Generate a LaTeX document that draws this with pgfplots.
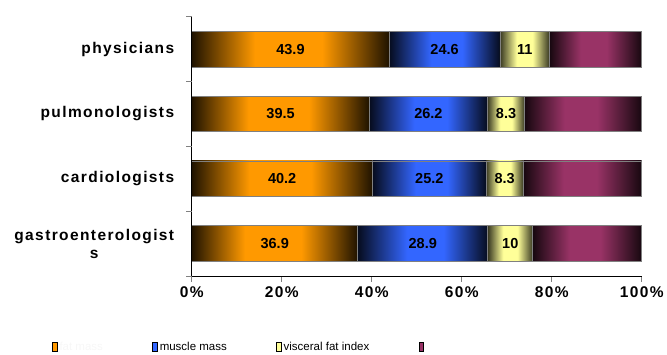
\documentclass[border=0pt]{standalone}
\usepackage{pgfplots}
\pgfplotsset{compat=1.18}
\usepackage{fontspec}
\setmainfont{Liberation Sans}
\newfontfamily\spaced[LetterSpace=9]{Liberation Sans}
\definecolor{cOrange}{HTML}{FF9900}
\definecolor{cBlue}{HTML}{3366FF}
\definecolor{cYellow}{HTML}{FFFF99}
\definecolor{cPurple}{HTML}{993366}
\definecolor{barline}{HTML}{808080}
\colorlet{dOrange}{cOrange!12!black}
\colorlet{dBlue}{cBlue!12!black}
\colorlet{dYellow}{cYellow!22!black}
\colorlet{dPurple}{cPurple!15!black}
\pgfdeclarehorizontalshading{shOrange}{100bp}{color(0bp)=(dOrange); color(25bp)=(dOrange); color(41bp)=(cOrange); color(58bp)=(cOrange); color(75bp)=(dOrange); color(100bp)=(dOrange)}
\pgfdeclarehorizontalshading{shBlue}{100bp}{color(0bp)=(dBlue); color(25bp)=(dBlue); color(44bp)=(cBlue); color(58bp)=(cBlue); color(75bp)=(dBlue); color(100bp)=(dBlue)}
\pgfdeclarehorizontalshading{shYellow}{100bp}{color(0bp)=(dYellow); color(25bp)=(dYellow); color(42bp)=(cYellow); color(58bp)=(cYellow); color(75bp)=(dYellow); color(100bp)=(dYellow)}
\pgfdeclarehorizontalshading{shPurple}{100bp}{color(0bp)=(dPurple); color(25bp)=(dPurple); color(42bp)=(cPurple); color(56bp)=(cPurple); color(75bp)=(dPurple); color(100bp)=(dPurple)}
% one bar segment: x from, x to, y low, y high, shading
\newcommand{\seg}[5]{\addplot[forget plot, shade, shading=#5, draw=barline, line width=0.7pt] coordinates {(#1,#3) (#2,#3) (#2,#4) (#1,#4)} -- cycle;}
\begin{document}
\begin{tikzpicture}
\path[use as bounding box] (-191.7pt,-78pt) rectangle (475.3pt,276pt);
\begin{axis}[
  at={(0pt,0pt)}, anchor=south west,
  scale only axis, width=450pt, height=259.3pt,
  xmin=0, xmax=100, ymin=-0.5, ymax=3.5,
  axis lines*=left,
  axis on top,
  axis line style={black, line width=0.9pt},
  tick align=outside,
  major tick length=5.5pt,
  xtick={0,20,40,60,80,100},
  xticklabels={0\%,20\%,40\%,60\%,80\%,100\%},
  xtick style={barline, line width=0.9pt},
  xticklabel style={font=\spaced\bfseries\fontsize{15.5}{18}\selectfont, yshift=-1.5pt},
  ytick={0,1,2,3},
  yticklabels={{gastroenterologist\\s},cardiologists,pulmonologists,physicians},
  ytick style={draw=none},
  yticklabel style={align=center, font=\spaced\bfseries\fontsize{15.5}{18}\selectfont, xshift=-8.5pt},
  extra y ticks={-0.5,0.5,1.5,2.5,3.5},
  extra y tick labels={},
  extra y tick style={ytick style={draw=barline, line width=0.9pt}},
  clip=false,
  legend columns=4,
  legend style={draw=none, fill=none, inner sep=0pt, at={(-0.3104,-0.274)}, anchor=west,
    font=\fontsize{11.5}{13}\selectfont,
    /tikz/every even column/.append style={column sep=47.5pt}},
  legend image code/.code={\draw[#1, draw=black, line width=0.8pt] (0pt,-4.5pt) rectangle (4.5pt,4.5pt);},
]
% physicians (y=3): 43.9, 24.6, 11, 20.5
\seg{0}{43.9}{2.725}{3.275}{shOrange}
\seg{43.9}{68.5}{2.725}{3.275}{shBlue}
\seg{68.5}{79.5}{2.725}{3.275}{shYellow}
\seg{79.5}{100}{2.725}{3.275}{shPurple}
% pulmonologists (y=2): 39.5, 26.2, 8.3, 26.0
\seg{0}{39.5}{1.725}{2.275}{shOrange}
\seg{39.5}{65.7}{1.725}{2.275}{shBlue}
\seg{65.7}{74.0}{1.725}{2.275}{shYellow}
\seg{74.0}{100}{1.725}{2.275}{shPurple}
% cardiologists (y=1): 40.2, 25.2, 8.3, 26.3
\seg{0}{40.2}{0.725}{1.275}{shOrange}
\seg{40.2}{65.4}{0.725}{1.275}{shBlue}
\seg{65.4}{73.7}{0.725}{1.275}{shYellow}
\seg{73.7}{100}{0.725}{1.275}{shPurple}
% gastroenterologists (y=0): 36.9, 28.9, 10, 24.2
\seg{0}{36.9}{-0.275}{0.275}{shOrange}
\seg{36.9}{65.8}{-0.275}{0.275}{shBlue}
\seg{65.8}{75.8}{-0.275}{0.275}{shYellow}
\seg{75.8}{100}{-0.275}{0.275}{shPurple}
% value labels at segment centres
\addplot[forget plot, draw=none, mark=none, nodes near coords, point meta=explicit symbolic,
  nodes near coords align={center},
  every node near coord/.append style={font=\bfseries\fontsize{14.5}{16}\selectfont, text=black, inner sep=0pt}]
  coordinates {
  (21.95,3) [43.9] (56.2,3) [24.6] (74.0,3) [11]
  (19.75,2) [39.5] (52.6,2) [26.2] (69.85,2) [8.3]
  (20.1,1) [40.2] (52.8,1) [25.2] (69.55,1) [8.3]
  (18.45,0) [36.9] (51.35,0) [28.9] (70.8,0) [10]
  };
\addlegendimage{fill=cOrange}
\addlegendimage{fill=cBlue}
\addlegendimage{fill=cYellow}
\addlegendimage{fill=cPurple}
\legend{\textcolor{gray!6}{fat mass},muscle mass,visceral fat index,\strut}
\end{axis}
\end{tikzpicture}
\end{document}
